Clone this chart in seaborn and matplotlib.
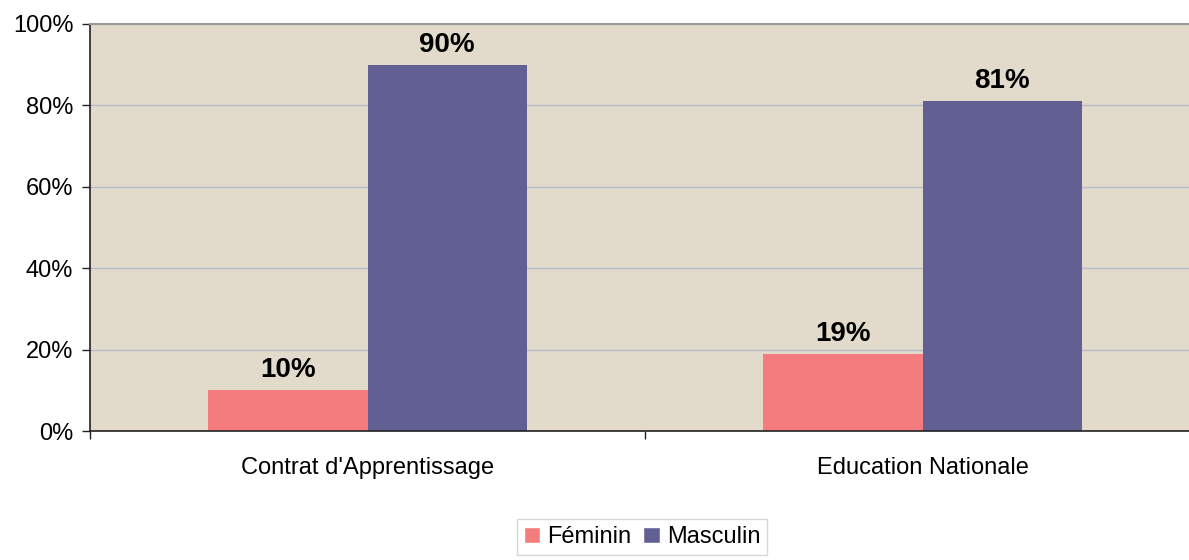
import matplotlib
matplotlib.use("Agg")
import matplotlib.pyplot as plt
import seaborn as sns
import pandas as pd
from matplotlib.ticker import PercentFormatter, FixedLocator
from matplotlib.patches import Patch

categories = ["Contrat d'Apprentissage", "Education Nationale"]
feminin = [10, 19]
masculin = [90, 81]
series_names = ["Féminin", "Masculin"]
colors = ["#F47C7C", "#626093"]

df = pd.DataFrame({
    "categorie": categories * 2,
    "sexe": [series_names[0]] * 2 + [series_names[1]] * 2,
    "valeur": feminin + masculin,
})

sns.set_style("white")
plt.rcParams["font.family"] = ["Liberation Sans", "DejaVu Sans"]
plt.rcParams["text.color"] = "black"

fig = plt.figure(figsize=(11.89, 5.6), dpi=100)
ax = fig.add_axes([90 / 1189, 1 - 431 / 560, 1110 / 1189, 407 / 560])

sns.barplot(data=df, x="categorie", y="valeur", hue="sexe", palette=colors,
            width=0.573, gap=0, saturation=1, linewidth=0, ax=ax, legend=False)

ax.set_facecolor("#E2DBCC")
ax.set_xlim(-0.5, 1.5)
ax.set_ylim(0, 100)
ax.yaxis.set_major_locator(FixedLocator([0, 20, 40, 60, 80, 100]))
ax.yaxis.set_major_formatter(PercentFormatter(decimals=0))
ax.grid(axis="y", color="#B8BCC8", linewidth=1)
ax.set_axisbelow(True)

for c in ax.containers:
    ax.bar_label(c, labels=[f"{v:.0f}%" for v in c.datavalues], padding=5,
                 fontsize=20, fontweight="bold", color="black")

ax.set_xlabel("")
ax.set_ylabel("")
ax.tick_params(axis="y", labelsize=17, length=6, width=1, color="#222222",
               labelcolor="black", left=True, pad=6)
ax.tick_params(axis="x", labelsize=17, length=0, pad=19, labelcolor="black")

# category separator ticks
ax.set_xticks([-0.5, 0.5], minor=True)
ax.tick_params(axis="x", which="minor", length=6, width=1, color="#222222",
               bottom=True)

for side in ["left", "bottom"]:
    ax.spines[side].set_color("#222222")
    ax.spines[side].set_linewidth(1.2)
ax.spines["top"].set_color("#999999")
ax.spines["top"].set_linewidth(1.5)
ax.spines["right"].set_visible(False)

handles = [Patch(facecolor=colors[i], label=series_names[i]) for i in range(2)]
fig.legend(handles=handles, loc="lower center", bbox_to_anchor=(642 / 1189, 0.0),
           ncol=2, fontsize=17, frameon=True, fancybox=False, edgecolor="#CCCCCC",
           handlelength=0.7, handleheight=0.7, handletextpad=0.3,
           columnspacing=0.5, borderpad=0.3, borderaxespad=0.2)

fig.savefig("out.png", dpi=100, facecolor="white")
